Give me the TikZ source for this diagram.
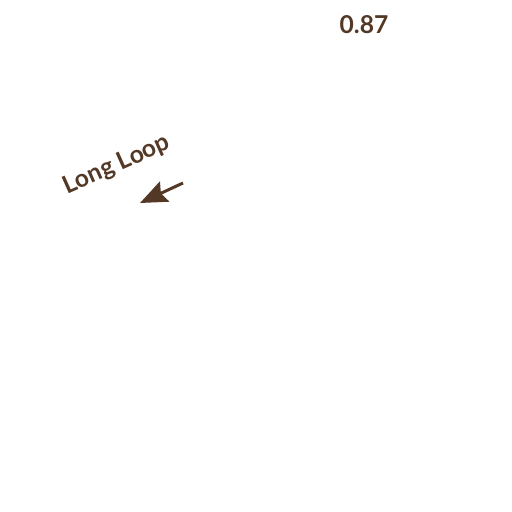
\documentclass[tikz,border=0pt]{standalone}
\usepackage{fontspec}
\setmainfont{Lato}
\usepackage{tikz}
\usetikzlibrary{arrows.meta,positioning}
\definecolor{loopbrown}{RGB}{84,56,38}
\tikzset{
  label/.style={text=loopbrown, font=\fontsize{14}{16}\selectfont\bfseries, inner sep=0pt},
  arrow/.style={-{Stealth[length=5.4mm,width=4.4mm,inset=0.8mm]}, line width=1.7pt, draw=loopbrown}
}

\begin{document}
\begin{tikzpicture}
  \useasboundingbox (0,0) rectangle (10.24,10.24);
  \node[label] (value) at (7.28,9.74) {0.87};
  \node[label, rotate=24] (loop) at (2.34,6.94) {Long Loop};
  \coordinate (from) at (3.66,6.58);
  \coordinate (to) at (2.80,6.18);
  \draw[arrow] (from)--(to);
\end{tikzpicture}
\end{document}
